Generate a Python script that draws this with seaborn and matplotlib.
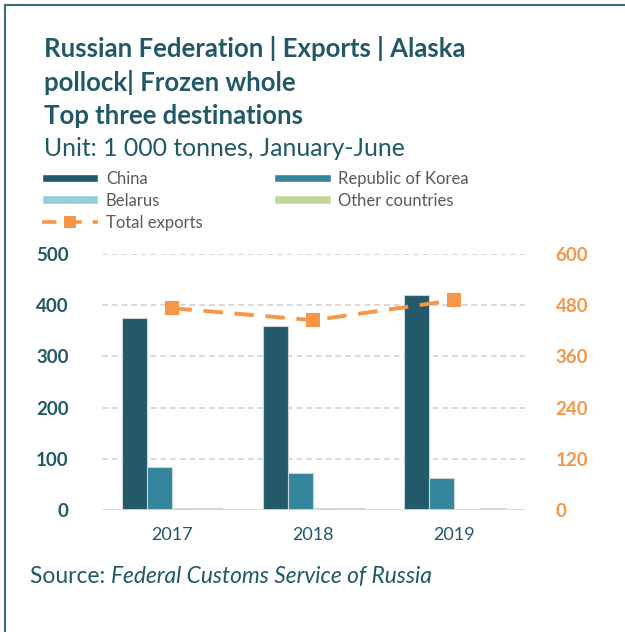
import numpy as np
import pandas as pd
import matplotlib
matplotlib.use('Agg')
import matplotlib.pyplot as plt
from matplotlib.lines import Line2D
from matplotlib.patches import Patch
import seaborn as sns

# Data (1 000 tonnes, January-June)
years = ['2017', '2018', '2019']
china = [375, 359, 420]
korea = [85, 72, 62]
belarus = [4, 3, 1]
others = [3, 3, 3]
total_exports = [473, 445, 492]

countries = ['China', 'Republic of Korea', 'Belarus', 'Other countries']
colors = ['#225a6a', '#33869b', '#92cddc', '#c4d79b']
teal = '#215868'
orange = '#f79646'

df = pd.DataFrame({
    'year': years * 4,
    'country': np.repeat(countries, 3),
    'value': china + korea + belarus + others,
})

sns.set_style('white')
plt.rcParams['font.family'] = ['Lato', 'DejaVu Sans']

fig = plt.figure(figsize=(6.25, 6.32), dpi=100)
ax = fig.add_axes([0.163, 0.193, 0.677, 0.405])

sns.barplot(data=df, x='year', y='value', hue='country', palette=colors,
            saturation=1, width=0.71, gap=0.0, edgecolor='#c8d6dc',
            linewidth=0.8, legend=False, ax=ax)

ax.set_ylim(0, 500)
ax.set_xlim(-0.5, 2.5)
ax.set_yticks(range(0, 501, 100))
for y in range(100, 501, 100):
    ax.axhline(y, color='#d9d9d9', lw=1.4, ls=(0, (3, 2)), zorder=0)
ax.axhline(0, color='#d9d9d9', lw=2, zorder=3)
ax.set_xlabel('')
ax.set_ylabel('')
for s in ax.spines.values():
    s.set_visible(False)
ax.tick_params(axis='y', length=0, pad=24, labelsize=13.5, labelcolor=teal)
ax.tick_params(axis='x', length=0, pad=12, labelsize=13, labelcolor=teal)
for t in ax.get_yticklabels():
    t.set_fontweight('bold')

ax2 = ax.twinx()
sns.lineplot(x=np.arange(len(years)), y=total_exports, ax=ax2, color=orange,
             lw=2.8, marker='s', markersize=10, markeredgewidth=0,
             dashes=False, linestyle=(0, (5, 3)))
ax2.set_ylim(0, 600)
ax2.set_yticks(range(0, 601, 120))
for s in ax2.spines.values():
    s.set_visible(False)
ax2.tick_params(axis='y', length=0, pad=22, labelsize=13.5, labelcolor=orange)
for t in ax2.get_yticklabels():
    t.set_fontweight('bold')
ax.set_xlim(-0.5, 2.5)

# Titles
fig.text(0.07, 0.924, 'Russian Federation | Exports | Alaska', fontsize=18.5,
         fontweight='bold', color=teal, va='center')
fig.text(0.07, 0.870, 'pollock| Frozen whole', fontsize=18.5,
         fontweight='bold', color=teal, va='center')
fig.text(0.07, 0.817, 'Top three destinations', fontsize=18.5,
         fontweight='bold', color=teal, va='center')
fig.text(0.07, 0.765, 'Unit: 1 000 tonnes, January-June', fontsize=17.8,
         color=teal, va='center')

# Legend
handles = [
    Patch(facecolor=colors[0], label=countries[0]),
    Patch(facecolor=colors[2], label=countries[2]),
    Line2D([], [], color=orange, lw=2.6, ls=(0, (4, 3)), marker='s',
           markersize=9, markeredgewidth=0, label='Total exports'),
    Patch(facecolor=colors[1], label=countries[1]),
    Patch(facecolor=colors[3], label=countries[3]),
]
fig.legend(handles=handles, ncol=2, loc='upper left',
           bbox_to_anchor=(0.048, 0.748), frameon=False, fontsize=12,
           labelcolor='#595959', handlelength=3.4, handleheight=0.45,
           handletextpad=0.45, columnspacing=4.3, labelspacing=0.35,
           borderpad=0.2)

# Source
src = fig.text(0.048, 0.078, 'Source: ', fontsize=16.4, color=teal,
               va='baseline')
ax.annotate('Federal Customs Service of Russia', xy=(1, 0), xycoords=src,
            va='bottom', fontsize=16.4, color=teal, style='italic',
            annotation_clip=False)

# Frame lines (top and left)
fig.add_artist(Line2D([0.008, 1.0], [0.992, 0.992], color='#3a6b7e', lw=1.5,
                      transform=fig.transFigure))
fig.add_artist(Line2D([0.008, 0.008], [0.0, 0.992], color='#3a6b7e', lw=1.5,
                      transform=fig.transFigure))

fig.savefig('out.png', dpi=100)
